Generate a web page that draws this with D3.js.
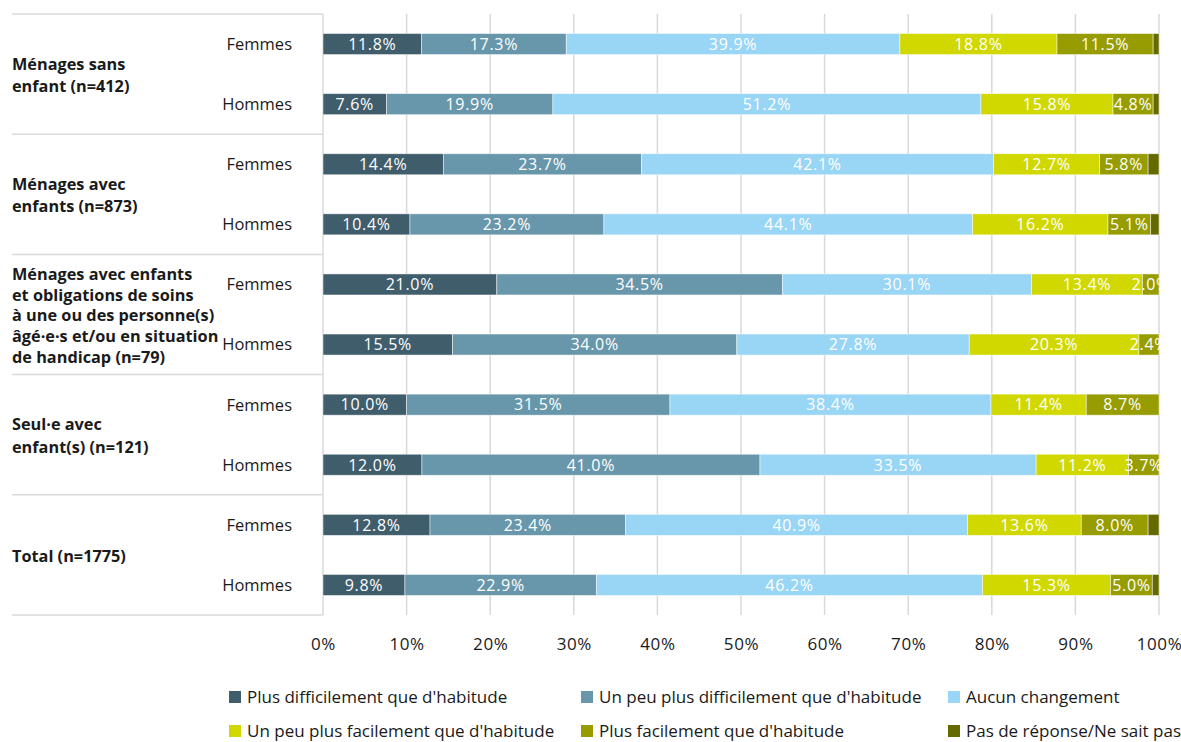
<!DOCTYPE html>
<html lang="fr">
<head>
<meta charset="utf-8">
<script src="https://cdn.jsdelivr.net/npm/d3@7"></script>
<style>
  html, body { margin: 0; padding: 0; background: #fff; }
  svg { display: block; font-family: "Open Sans", "Noto Sans", sans-serif; }
</style>
</head>
<body>
<svg id="chart" width="1181" height="742"></svg>
<script>
// Household groups (left labels, may wrap over several lines)
const groupLabels = [
  ["Ménages sans", "enfant (n=412)"],
  ["Ménages avec", "enfants (n=873)"],
  ["Ménages avec enfants", "et obligations de soins", "à une ou des personne(s)", "âgé·e·s et/ou en situation", "de handicap (n=79)"],
  ["Seul·e avec", "enfant(s) (n=121)"],
  ["Total (n=1775)"]
];
const sexes = ["Femmes", "Hommes"];

// Answer categories, in stacking order
const seriesNames = [
  "Plus difficilement que d'habitude",
  "Un peu plus difficilement que d'habitude",
  "Aucun changement",
  "Un peu plus facilement que d'habitude",
  "Plus facilement que d'habitude",
  "Pas de réponse/Ne sait pas"
];
const seriesColors = ["#405d6c", "#6897ab", "#99d5f5", "#d0d800", "#979c00", "#646a00"];

// Percentages per row (Femmes, Hommes for each group in turn)
const plusDifficilement      = [11.8, 7.6, 14.4, 10.4, 21.0, 15.5, 10.0, 12.0, 12.8, 9.8];
const unPeuPlusDifficilement = [17.3, 19.9, 23.7, 23.2, 34.5, 34.0, 31.5, 41.0, 23.4, 22.9];
const aucunChangement        = [39.9, 51.2, 42.1, 44.1, 30.1, 27.8, 38.4, 33.5, 40.9, 46.2];
const unPeuPlusFacilement    = [18.8, 15.8, 12.7, 16.2, 13.4, 20.3, 11.4, 11.2, 13.6, 15.3];
const plusFacilement         = [11.5, 4.8, 5.8, 5.1, 2.0, 2.4, 8.7, 3.7, 8.0, 5.0];
const pasDeReponse           = [0.7, 0.7, 1.3, 1.0, 0, 0, 0, 0, 1.3, 0.8];

const xTicks = [0, 0.1, 0.2, 0.3, 0.4, 0.5, 0.6, 0.7, 0.8, 0.9, 1];

const seriesValues = [plusDifficilement, unPeuPlusDifficilement, aucunChangement,
                      unPeuPlusFacilement, plusFacilement, pasDeReponse];

// Build one record per bar
const rows = [];
groupLabels.forEach((g, gi) => {
  sexes.forEach((s, si) => {
    const i = gi * 2 + si;
    const r = { id: i, group: gi, sex: s };
    seriesNames.forEach((n, k) => { r[n] = seriesValues[k][i]; });
    rows.push(r);
  });
});

const svg = d3.select("#chart");
const plot = { left: 323, right: 1159, top: 14, bottom: 615 };

const x = d3.scaleLinear().domain([0, 1]).range([plot.left, plot.right]);
const y = d3.scaleBand()
  .domain(rows.map(r => r.id))
  .range([plot.top, plot.bottom])
  .paddingInner(0.65)
  .paddingOuter(0.325);

const stack = d3.stack().keys(seriesNames).offset(d3.stackOffsetExpand);
const stacked = stack(rows);

// Vertical gridlines
svg.append("g")
  .selectAll("line")
  .data(xTicks)
  .join("line")
  .attr("x1", d => x(d)).attr("x2", d => x(d))
  .attr("y1", plot.top).attr("y2", plot.bottom)
  .attr("stroke", "#d9d9d9")
  .attr("stroke-width", 1.5);

// Group separators on the left side
const groupEdges = d3.range(groupLabels.length + 1).map(i => plot.top + i * (plot.bottom - plot.top) / groupLabels.length);
svg.append("g")
  .selectAll("line")
  .data(groupEdges)
  .join("line")
  .attr("x1", 12).attr("x2", plot.left)
  .attr("y1", d => d).attr("y2", d => d)
  .attr("stroke", "#d9d9d9")
  .attr("stroke-width", 1.5);

// Stacked bars
const layer = svg.append("g")
  .selectAll("g")
  .data(stacked)
  .join("g")
  .attr("fill", (d, i) => seriesColors[i]);

layer.selectAll("rect")
  .data(d => d)
  .join("rect")
  .attr("x", d => x(d[0]))
  .attr("width", d => Math.max(0, x(d[1]) - x(d[0])))
  .attr("y", d => y(d.data.id))
  .attr("height", y.bandwidth())
  .attr("stroke", "#ffffff")
  .attr("stroke-opacity", 0.6)
  .attr("stroke-width", 0.8);

// Value labels (clipped to the plotting area)
svg.append("clipPath").attr("id", "plotClip")
  .append("rect")
  .attr("x", plot.left).attr("y", plot.top)
  .attr("width", plot.right - plot.left + 1)
  .attr("height", plot.bottom - plot.top);

const labelLayer = svg.append("g").attr("clip-path", "url(#plotClip)");
stacked.slice(0, 5).forEach(s => {
  labelLayer.append("g")
    .selectAll("text")
    .data(s)
    .join("text")
    .attr("x", d => (x(d[0]) + x(d[1])) / 2)
    .attr("y", d => y(d.data.id) + y.bandwidth() / 2)
    .attr("dy", "0.36em")
    .attr("text-anchor", "middle")
    .attr("fill", "#ffffff")
    .attr("font-size", 16)
    .attr("letter-spacing", 0.7)
    .text(d => d3.format(".1f")(d.data[s.key]) + "%");
});

// Sex labels
svg.append("g")
  .selectAll("text")
  .data(rows)
  .join("text")
  .attr("x", 292)
  .attr("y", d => y(d.id) + y.bandwidth() / 2)
  .attr("dy", "0.36em")
  .attr("text-anchor", "end")
  .attr("fill", "#1a1a1a")
  .attr("font-size", 16.5)
  .text(d => d.sex);

// Group labels
svg.append("g")
  .selectAll("text")
  .data(groupLabels)
  .join("text")
  .attr("font-size", 16.3)
  .attr("font-weight", 700)
  .attr("fill", "#1a1a1a")
  .each(function(lines, gi) {
    const lineH = lines.length > 2 ? 20.8 : 22.5;
    const cy = (groupEdges[gi] + groupEdges[gi + 1]) / 2 + 1;
    const y0 = cy - (lines.length - 1) * lineH / 2;
    d3.select(this).selectAll("tspan")
      .data(lines)
      .join("tspan")
      .attr("x", 12)
      .attr("y", (d, i) => y0 + i * lineH)
      .attr("dy", "0.36em")
      .text(d => d);
  });

// X axis labels
const xAxis = d3.axisBottom(x)
  .tickValues(xTicks)
  .tickFormat(d3.format(".0%"))
  .tickSize(0)
  .tickPadding(0);
const axisG = svg.append("g")
  .attr("transform", `translate(0, 638)`)
  .call(xAxis);
axisG.select(".domain").remove();
axisG.selectAll("text")
  .attr("font-size", 17)
  .attr("letter-spacing", 0.6)
  .attr("fill", "#1a1a1a")
  .attr("font-family", "\"Open Sans\", \"Noto Sans\", sans-serif");

// Legend: two rows of three entries
const legendCols = [229, 581, 948];
const legendRows = [697, 731];
const legend = svg.append("g")
  .selectAll("g")
  .data(seriesNames)
  .join("g")
  .attr("transform", (d, i) => `translate(${legendCols[i % 3]}, ${legendRows[Math.floor(i / 3)]})`);
legend.append("rect")
  .attr("x", 0).attr("y", -6)
  .attr("width", 12).attr("height", 12)
  .attr("fill", (d, i) => seriesColors[i]);
legend.append("text")
  .attr("x", 18)
  .attr("dy", "0.36em")
  .attr("font-size", 17)
  .attr("fill", "#1a1a1a")
  .text(d => d);
</script>
</body>
</html>
